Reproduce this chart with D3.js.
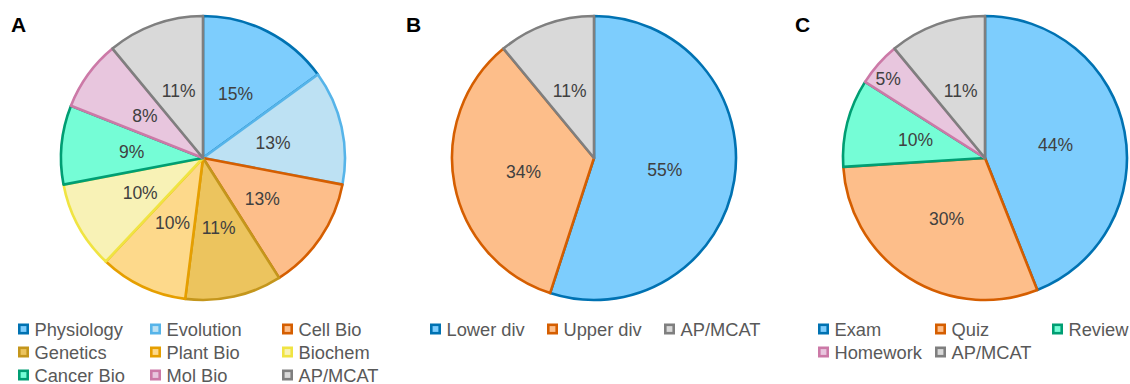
<!DOCTYPE html>
<html>
<head>
<meta charset="utf-8">
<script src="https://cdn.jsdelivr.net/npm/d3@7"></script>
<style>
  html, body { margin: 0; padding: 0; background: #fff; }
  svg { display: block; font-family: "Liberation Sans", Arial, sans-serif; }
</style>
</head>
<body>
<svg id="chart" width="1130" height="384"></svg>
<script>
// Panel A: share by course topic
const topicCategories = ["Physiology", "Evolution", "Cell Bio", "Genetics", "Plant Bio", "Biochem", "Cancer Bio", "Mol Bio", "AP/MCAT"];
const topicValues = [15, 13, 13, 11, 10, 10, 9, 8, 11];

// Panel B: share by course level
const levelCategories = ["Lower div", "Upper div", "AP/MCAT"];
const levelValues = [55, 34, 11];

// Panel C: share by assessment type
const assessCategories = ["Exam", "Quiz", "Review", "Homework", "AP/MCAT"];
const assessValues = [44, 30, 10, 5, 11];

// Slice fill / outline colours by category
const fills = {
  "Physiology": "#7dcdfd", "Lower div": "#7dcdfd", "Exam": "#7dcdfd",
  "Evolution": "#bde1f3",
  "Cell Bio": "#fdbe8a", "Upper div": "#fdbe8a", "Quiz": "#fdbe8a",
  "Genetics": "#ecc45e",
  "Plant Bio": "#fdd98b",
  "Biochem": "#f8f2b6",
  "Cancer Bio": "#75fdd6", "Review": "#75fdd6",
  "Mol Bio": "#e8c6de", "Homework": "#e8c6de",
  "AP/MCAT": "#d9d9d9"
};
const strokes = {
  "Physiology": "#0072b2", "Lower div": "#0072b2", "Exam": "#0072b2",
  "Evolution": "#56b4e9",
  "Cell Bio": "#d55e00", "Upper div": "#d55e00", "Quiz": "#d55e00",
  "Genetics": "#c4961c",
  "Plant Bio": "#e69f00",
  "Biochem": "#f0e442",
  "Cancer Bio": "#009e73", "Review": "#009e73",
  "Mol Bio": "#cc79a7", "Homework": "#cc79a7",
  "AP/MCAT": "#7f7f7f"
};

const svg = d3.select("#chart");
const R = 142;

const panels = [
  { letter: "A", letterX: 11, cx: 203, cy: 158, cats: topicCategories, vals: topicValues,
    legendX: 18, colW: 132, cols: 3 },
  { letter: "B", letterX: 406, cx: 594, cy: 158, cats: levelCategories, vals: levelValues,
    legendX: 430, colW: 117, cols: 3 },
  { letter: "C", letterX: 795, cx: 985, cy: 158, cats: assessCategories, vals: assessValues,
    legendX: 818, colW: 117, cols: 3 }
];

const pie = d3.pie().sort(null).value(d => d.value);
const arc = d3.arc().innerRadius(0).outerRadius(R);

panels.forEach(p => {
  const data = p.cats.map((c, i) => ({ name: c, value: p.vals[i] }));
  const arcs = pie(data);
  const total = d3.sum(p.vals);

  svg.append("text")
    .attr("x", p.letterX).attr("y", 32)
    .attr("font-size", 21).attr("font-weight", "bold")
    .attr("fill", "#000")
    .text(p.letter);

  const g = svg.append("g").attr("transform", `translate(${p.cx},${p.cy})`);

  g.selectAll("path.slice")
    .data(arcs)
    .join("path")
    .attr("class", "slice")
    .attr("d", arc)
    .attr("fill", d => fills[d.data.name])
    .attr("stroke", d => strokes[d.data.name])
    .attr("stroke-width", 2.6)
    .attr("stroke-linejoin", "round");

  // Percent labels: inside the slice, pushed outward for very thin slices
  g.selectAll("text.pct")
    .data(arcs)
    .join("text")
    .attr("class", "pct")
    .attr("transform", d => {
      const share = d.data.value / total;
      const r = share < 0.07 ? R * 0.88 : R * 0.505;
      const a = (d.startAngle + d.endAngle) / 2 - (share < 0.07 ? 0.04 : 0);
      return `translate(${r * Math.sin(a)},${-r * Math.cos(a)})`;
    })
    .attr("text-anchor", "middle")
    .attr("dy", "0.36em")
    .attr("font-size", 17.5)
    .attr("fill", "#404040")
    .text(d => Math.round(d.data.value / total * 100) + "%");

  // Legend
  const leg = svg.append("g");
  const items = leg.selectAll("g.item")
    .data(p.cats)
    .join("g")
    .attr("class", "item")
    .attr("transform", (d, i) => {
      const col = i % p.cols, row = Math.floor(i / p.cols);
      return `translate(${p.legendX + col * p.colW},${329 + row * 23})`;
    });
  items.append("rect")
    .attr("x", 1.3).attr("y", -4.2)
    .attr("width", 8.4).attr("height", 8.4)
    .attr("fill", d => fills[d])
    .attr("stroke", d => strokes[d])
    .attr("stroke-width", 2.6);
  items.append("text")
    .attr("x", 16.5).attr("dy", "0.36em")
    .attr("font-size", 18.3)
    .attr("fill", "#595959")
    .text(d => d);
});
</script>
</body>
</html>
